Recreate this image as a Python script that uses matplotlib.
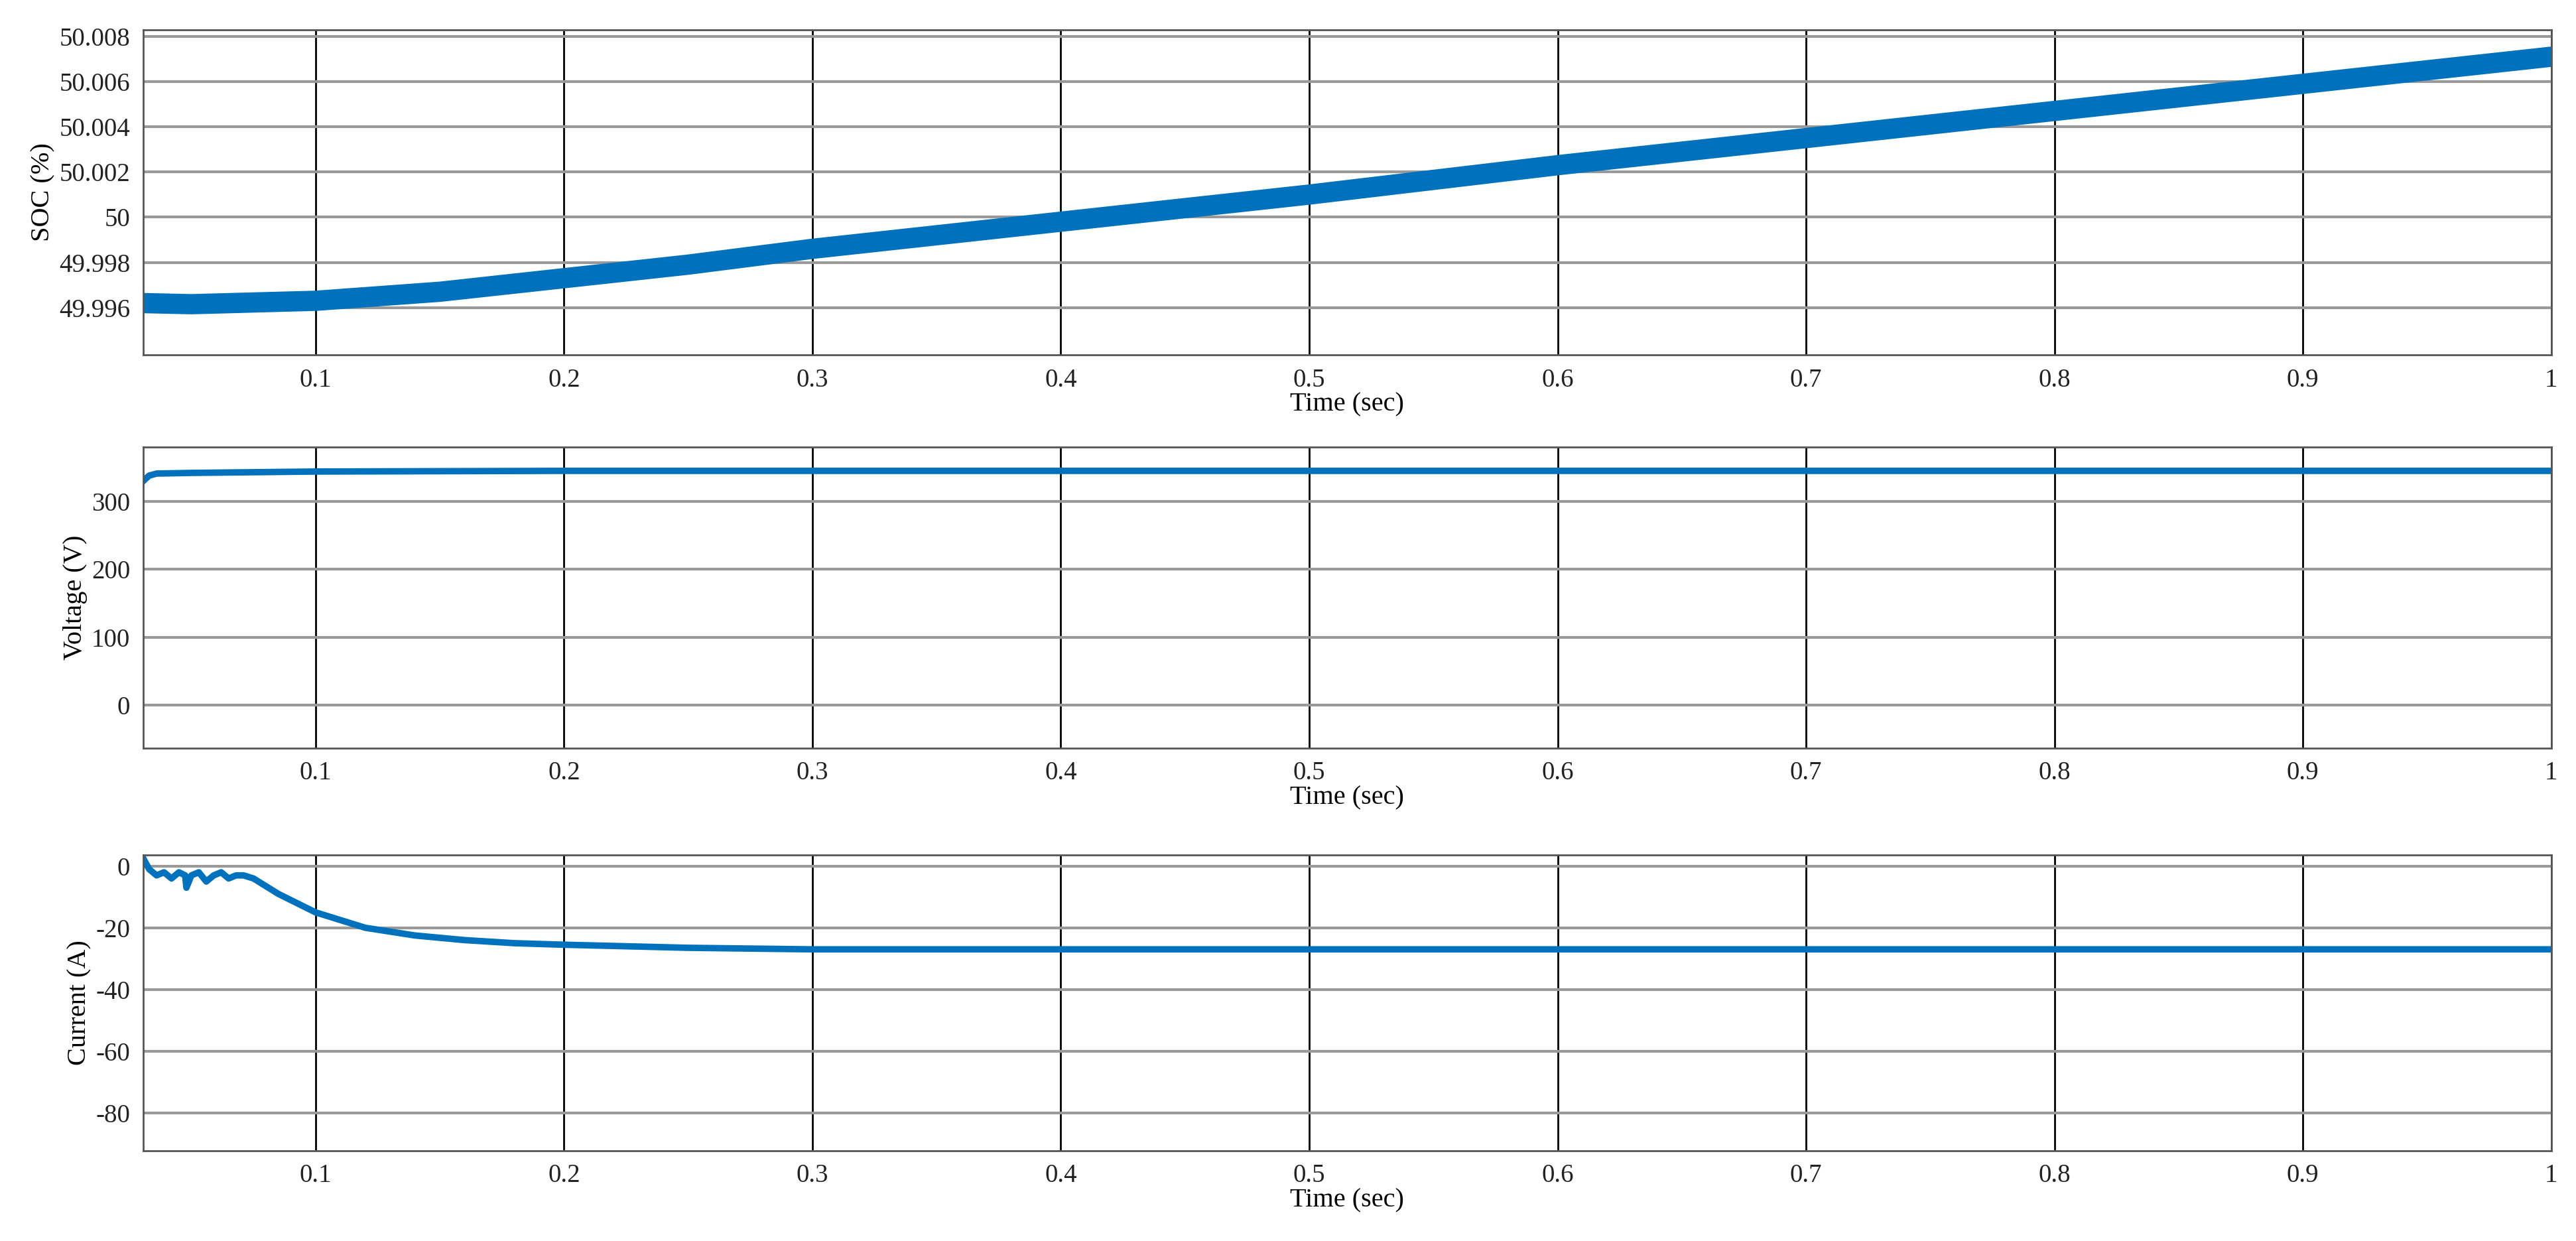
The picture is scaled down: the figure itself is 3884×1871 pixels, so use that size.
import matplotlib
matplotlib.use("Agg")
import matplotlib.pyplot as plt

soc_t = [0.03, 0.05, 0.1, 0.15, 0.2, 0.25, 0.3, 0.4, 0.5, 0.6, 0.7, 0.8, 0.9, 1.0]
soc_v = [49.9962, 49.99615, 49.9963, 49.9967, 49.9973, 49.9979, 49.9986, 49.9998, 50.0010, 50.0023, 50.0035, 50.0047, 50.0059, 50.0071]

volt_t = [0.03, 0.033, 0.036, 0.05, 0.1, 0.2, 0.4, 0.6, 0.8, 1.0]
volt_v = [328, 338, 341, 342, 344, 345, 345, 345, 345, 345]

cur_t = [0.031, 0.033, 0.036, 0.039, 0.042, 0.045, 0.0475, 0.048, 0.05, 0.053, 0.056, 0.059, 0.062, 0.065, 0.068, 0.071, 0.075,
         0.085, 0.1, 0.12, 0.14, 0.16, 0.18, 0.2, 0.25, 0.3, 0.4, 0.5, 0.6, 0.7, 0.8, 0.9, 1.0]
cur_v = [2, -1, -3, -2, -4, -2, -3, -7, -3, -2, -5, -3, -2, -4, -3, -3, -4,
         -9, -15, -20, -22.5, -24, -25, -25.5, -26.5, -27, -27, -27, -27, -27, -27, -27, -27]

time_label = "Time (sec)"
xticks = [0.1, 0.2, 0.3, 0.4, 0.5, 0.6, 0.7, 0.8, 0.9, 1]
xticklabels = ["0.1", "0.2", "0.3", "0.4", "0.5", "0.6", "0.7", "0.8", "0.9", "1"]
soc_ticks = [49.996, 49.998, 50, 50.002, 50.004, 50.006, 50.008]
soc_ticklabels = ["49.996", "49.998", "50", "50.002", "50.004", "50.006", "50.008"]
volt_ticks = [0, 100, 200, 300]
cur_ticks = [-80, -60, -40, -20, 0]

plt.rcParams['font.family'] = ['Liberation Serif']
W, H = 3884, 1871
fig = plt.figure(figsize=(W/100, H/100), dpi=100)
blue = "#0072BD"

def mk(top, bot):
    return fig.add_axes([87/1568, 1-bot/755, (1553-87)/1568, (bot-top)/755])

ax1 = mk(18, 216)
ax2 = mk(272, 455)
ax3 = mk(520, 700)

ax1.plot(soc_t, soc_v, color=blue, lw=22, solid_capstyle='round')
ax1.set_ylim(49.9939, 50.0083)
ax1.set_yticks(soc_ticks)
ax1.set_yticklabels(soc_ticklabels)
ax1.set_ylabel("SOC (%)")

ax2.plot(volt_t, volt_v, color=blue, lw=7)
ax2.set_ylim(-63, 380)
ax2.set_yticks(volt_ticks)
ax2.set_yticklabels([str(v) for v in volt_ticks])
ax2.set_ylabel("Voltage (V)")

ax3.plot(cur_t, cur_v, color=blue, lw=7)
ax3.set_ylim(-92.3, 3.7)
ax3.set_yticks(cur_ticks)
ax3.set_yticklabels([str(v) for v in cur_ticks])
ax3.set_ylabel("Current (A)")

for ax in (ax1, ax2, ax3):
    ax.set_xlim(0.0305, 1.0)
    ax.set_xticks(xticks)
    ax.set_xticklabels(xticklabels)
    ax.set_xlabel(time_label, fontsize=29, labelpad=0)
    ax.yaxis.label.set_size(29)
    ax.tick_params(labelsize=28, length=0, pad=14, colors="#222222")
    ax.xaxis.grid(True, color="black", lw=2)
    ax.yaxis.grid(True, color="#999999", lw=3)
    ax.set_axisbelow(True)
    for s in ax.spines.values():
        s.set_color("#555555")
        s.set_linewidth(2)

fig.savefig("out.png", dpi=100)
